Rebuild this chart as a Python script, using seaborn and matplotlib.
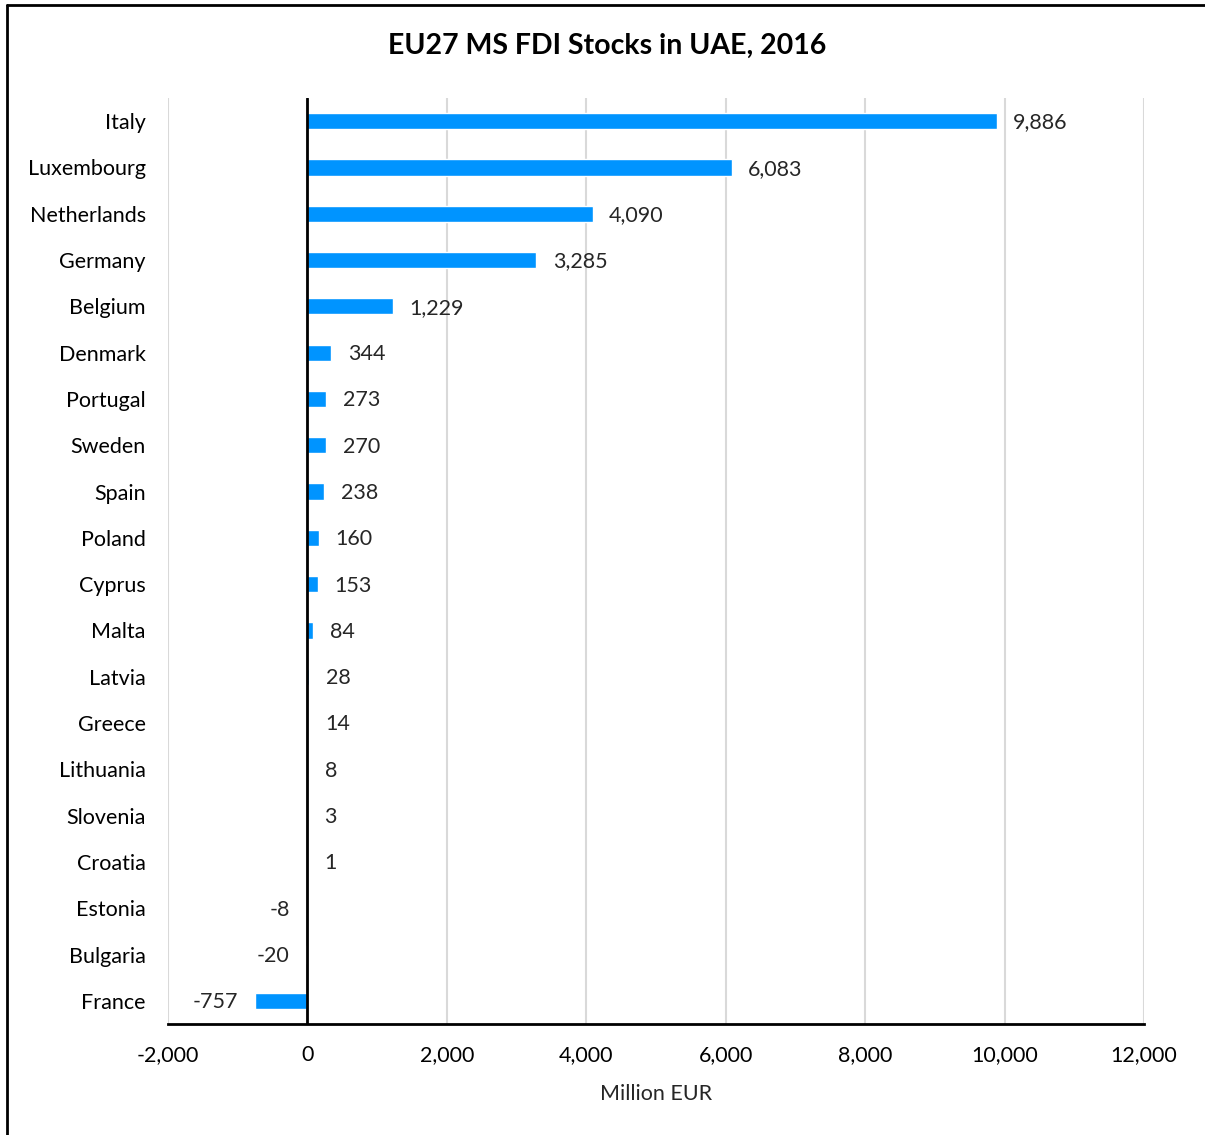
import matplotlib
matplotlib.use("Agg")
import matplotlib.pyplot as plt
import seaborn as sns
import pandas as pd
from matplotlib.lines import Line2D
from matplotlib.ticker import FuncFormatter

countries = ["Italy", "Luxembourg", "Netherlands", "Germany", "Belgium", "Denmark",
             "Portugal", "Sweden", "Spain", "Poland", "Cyprus", "Malta", "Latvia",
             "Greece", "Lithuania", "Slovenia", "Croatia", "Estonia", "Bulgaria", "France"]
stocks = [9886, 6083, 4090, 3285, 1229, 344, 273, 270, 238, 160, 153, 84, 28,
          14, 8, 3, 1, -8, -20, -757]
x_ticks = [-2000, 0, 2000, 4000, 6000, 8000, 10000, 12000]

df = pd.DataFrame({"country": countries, "stock": stocks})

sns.set_style("white")
plt.rcParams["font.family"] = ["Lato", "DejaVu Sans"]

fig = plt.figure(figsize=(12.05, 11.35), dpi=100)
ax = fig.add_axes([168 / 1205, 1 - 1024 / 1135, (1144 - 168) / 1205, (1024 - 98) / 1135])

sns.barplot(data=df, x="stock", y="country", orient="h", color="#0094FF",
            saturation=1, width=0.35, ax=ax)

ax.set_xlim(-2000, 12000)
ax.set_ylim(len(countries) - 0.5, -0.5)
ax.set_xticks(x_ticks)
ax.xaxis.set_major_formatter(FuncFormatter(lambda v, p: f"{v:,.0f}"))
ax.grid(axis="x", color="#d9d9d9", lw=1.5)
ax.set_axisbelow(True)
ax.axvline(0, color="black", lw=2, zorder=3)

for s in ["top", "right", "left"]:
    ax.spines[s].set_visible(False)
ax.spines["bottom"].set_color("black")
ax.spines["bottom"].set_linewidth(2)

ax.tick_params(axis="both", length=0, labelsize=15.5, colors="black")
ax.tick_params(axis="y", pad=16)
ax.tick_params(axis="x", pad=15)
ax.set_ylabel("")
ax.set_xlabel("Million EUR", fontsize=15.5, labelpad=14)

for i, v in enumerate(stocks):
    if v >= 0:
        ax.annotate(f"{v:,}", (v, i), xytext=(12, -1), textcoords="offset points",
                    ha="left", va="center", fontsize=15.5)
    else:
        ax.annotate(f"{v:,}", (v, i), xytext=(-12, -1), textcoords="offset points",
                    ha="right", va="center", fontsize=15.5)

fig.text(0.504, 1 - 46 / 1135, "EU27 MS FDI Stocks in UAE, 2016", ha="center",
         va="center", fontsize=20.5, fontweight="bold", color="black")

# chart frame (left and top edges visible)
fig.add_artist(Line2D([7 / 1205, 7 / 1205], [0, 1 - 5 / 1135], color="black", lw=2,
                      transform=fig.transFigure))
fig.add_artist(Line2D([7 / 1205, 1], [1 - 5 / 1135, 1 - 5 / 1135], color="black", lw=2,
                      transform=fig.transFigure))

fig.savefig("out.png", dpi=100)
